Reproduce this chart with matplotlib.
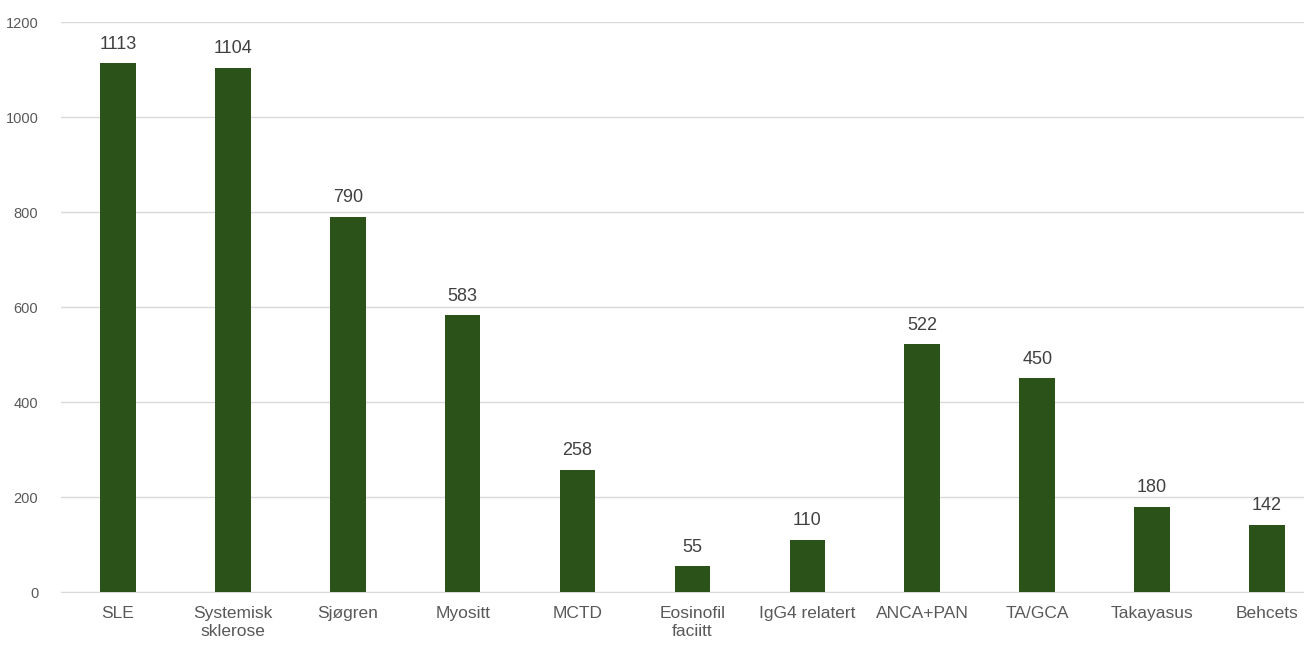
import matplotlib
matplotlib.use("Agg")
import matplotlib.pyplot as plt

categories = ["SLE", "Systemisk\nsklerose", "Sjøgren", "Myositt", "MCTD", "Eosinofil\nfaciitt",
              "IgG4 relatert", "ANCA+PAN", "TA/GCA", "Takayasus", "Behcets"]
values = [1113, 1104, 790, 583, 258, 55, 110, 522, 450, 180, 142]
yticks = [0, 200, 400, 600, 800, 1000, 1200]

plt.rcParams["font.family"] = ["Liberation Sans", "DejaVu Sans"]

fig = plt.figure(figsize=(13.04, 6.5), dpi=100)
# the plot area runs a little past the right edge of the picture, as in the original
ax = fig.add_axes([0.0464, 0.089, 0.9693, 0.877])

x = range(len(categories))
ax.bar(x, values, width=0.31, color="#2a5219", zorder=3)

# value labels above each bar
for xi, v in zip(x, values):
    ax.text(xi, v + 22, str(v), ha="center", va="bottom", fontsize=13, color="#404040")

ax.set_xlim(-0.5, len(categories) - 0.5)
ax.set_ylim(0, 1200)
ax.set_yticks(yticks)
ax.set_yticklabels([str(t) for t in yticks], fontsize=10.5, color="#595959")
ax.set_xticks(list(x))
ax.set_xticklabels(categories, fontsize=12.5, color="#595959", linespacing=1.25)
ax.tick_params(axis="both", length=0)
ax.tick_params(axis="x", pad=10)
ax.tick_params(axis="y", pad=16)

ax.grid(axis="y", color="#d9d9d9", linewidth=1, zorder=0)
for side in ["top", "right", "left"]:
    ax.spines[side].set_visible(False)
ax.spines["bottom"].set_color("#d9d9d9")

fig.savefig("out.png", dpi=100)
